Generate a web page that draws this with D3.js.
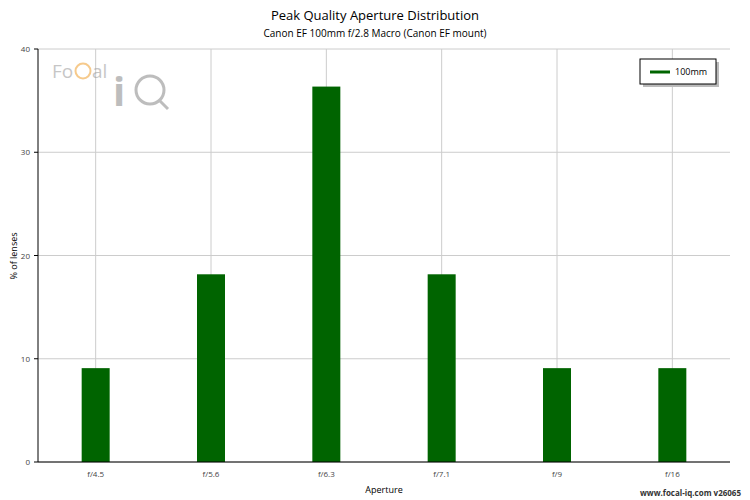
<!DOCTYPE html><html><head><meta charset="utf-8">
<script src="https://cdn.jsdelivr.net/npm/d3@7"></script>
<style>body{margin:0;background:#fff}text{font-family:"Open Sans",sans-serif}</style></head><body>
<svg id="c" width="750" height="500"></svg>
<script>
const categories=["f/4.5","f/5.6","f/6.3","f/7.1","f/9","f/16"];
const values=[9.09,18.18,36.36,18.18,9.09,9.09];
const yTicks=[0,10,20,30,40];
const svg=d3.select("#c");
const L=38,R=730,T=49,B=462;
const x=d3.scaleBand().domain(categories).range([L,R]);
const y=d3.scaleLinear().domain([0,40]).range([B,T]);
// grid
svg.selectAll(".gy").data(yTicks).enter().append("line").attr("x1",L).attr("x2",R).attr("y1",d=>y(d)).attr("y2",d=>y(d)).attr("stroke","#ccc");
svg.selectAll(".gx").data(categories).enter().append("line").attr("x1",d=>x(d)+x.bandwidth()/2).attr("x2",d=>x(d)+x.bandwidth()/2).attr("y1",T).attr("y2",B).attr("stroke","#ccc");
// logo
const g=svg.append("g").attr("opacity",0.55);
g.append("text").attr("x",52).attr("y",78).attr("font-size",19).attr("fill","#999").text("Fo");
g.append("circle").attr("cx",83).attr("cy",71).attr("r",7.5).attr("fill","none").attr("stroke","#f0a030").attr("stroke-width",2);
g.append("text").attr("x",92).attr("y",78).attr("font-size",19).attr("fill","#999").text("al");
g.append("text").attr("x",113).attr("y",106).attr("font-size",40).attr("font-weight","bold").attr("fill","#888").text("i");
g.append("circle").attr("cx",150).attr("cy",90).attr("r",14).attr("fill","none").attr("stroke","#888").attr("stroke-width",3);
g.append("line").attr("x1",160).attr("y1",101).attr("x2",168).attr("y2",109).attr("stroke","#888").attr("stroke-width",3);
// bars
svg.selectAll(".bar").data(values).enter().append("rect").attr("x",(d,i)=>x(categories[i])+x.bandwidth()/2-14).attr("width",28).attr("y",d=>y(d)).attr("height",d=>B-y(d)).attr("fill","#006400");
// axes
svg.append("line").attr("x1",L).attr("x2",L).attr("y1",T).attr("y2",B).attr("stroke","#000");
svg.append("line").attr("x1",L).attr("x2",R).attr("y1",B).attr("y2",B).attr("stroke","#000");
svg.selectAll(".yt").data(yTicks).enter().append("text").attr("x",L-8).attr("y",d=>y(d)+3).attr("text-anchor","end").attr("font-size",8).attr("fill","#444").text(d=>d);
svg.selectAll(".yk").data(yTicks).enter().append("line").attr("x1",L-4).attr("x2",L).attr("y1",d=>y(d)).attr("y2",d=>y(d)).attr("stroke","#000");
svg.selectAll(".xt").data(categories).enter().append("text").attr("x",d=>x(d)+x.bandwidth()/2).attr("y",B+15).attr("text-anchor","middle").attr("font-size",8).attr("fill","#444").text(d=>d);
svg.append("text").attr("x",384).attr("y",493).attr("text-anchor","middle").attr("font-size",9).text("Aperture");
svg.append("text").attr("transform","translate(17,256) rotate(-90)").attr("text-anchor","middle").attr("font-size",9).text("% of lenses");
svg.append("text").attr("x",375).attr("y",20).attr("text-anchor","middle").attr("font-size",13).text("Peak Quality Aperture Distribution");
svg.append("text").attr("x",375).attr("y",37).attr("text-anchor","middle").attr("font-size",10).text("Canon EF 100mm f/2.8 Macro (Canon EF mount)");
svg.append("text").attr("x",741).attr("y",496).attr("text-anchor","end").attr("font-size",8).attr("font-weight","bold").attr("fill","#333").text("www.focal-iq.com  v26065");
// legend
svg.append("rect").attr("x",643).attr("y",62).attr("width",76).attr("height",25).attr("fill","#bbb");
svg.append("rect").attr("x",640).attr("y",59).attr("width",76).attr("height",25).attr("fill","#fff").attr("stroke","#000");
svg.append("line").attr("x1",650).attr("x2",670).attr("y1",72).attr("y2",72).attr("stroke","#006400").attr("stroke-width",3);
svg.append("text").attr("x",675).attr("y",75).attr("font-size",9).text("100mm");
</script></body></html>
